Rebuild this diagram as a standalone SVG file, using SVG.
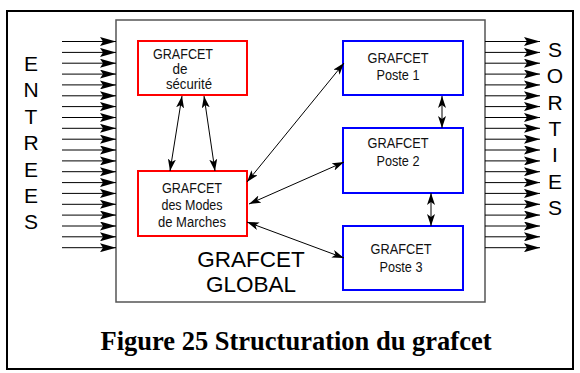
<svg xmlns="http://www.w3.org/2000/svg" width="580" height="373" viewBox="0 0 580 373">
<style>
.frame{fill:#fff;stroke:#000;stroke-width:2}
.global{fill:#fff;stroke:#555;stroke-width:1.5}
.red{fill:#fff;stroke:#ff0000;stroke-width:2}
.blue{fill:#fff;stroke:#0000ff;stroke-width:2}
.io line{stroke:#000;stroke-width:1;fill:none;marker-end:url(#ah)}
.con{stroke:#000;stroke-width:1;fill:none;marker-start:url(#ch);marker-end:url(#ch)}
.big{font-family:"Liberation Sans",Arial,sans-serif;font-size:21px;fill:#000;text-anchor:middle}
.small{font-family:"Liberation Sans",Arial,sans-serif;font-size:14px;fill:#111;text-anchor:middle}
.glob{font-family:"Liberation Sans",Arial,sans-serif;font-size:22.5px;fill:#000;text-anchor:middle}
.cap{font-family:"Liberation Serif","Times New Roman",serif;font-size:26.5px;font-weight:bold;fill:#000;text-anchor:middle}
</style>
<defs>
<marker id="ah" viewBox="0 0 16 9" refX="16" refY="4.5" markerWidth="16" markerHeight="9" markerUnits="userSpaceOnUse" orient="auto">
<path d="M0,0 L16,4.5 L0,9 L3,4.5 z" fill="#000"/>
</marker>
<marker id="ch" viewBox="0 0 12 8" refX="12" refY="4" markerWidth="12" markerHeight="8" markerUnits="userSpaceOnUse" orient="auto-start-reverse">
<path d="M0,0 L12,4 L0,8 L3,4 z" fill="#000"/>
</marker>
</defs>
<rect class="frame" x="7" y="11" width="566" height="358"/>
<g id="global">
<rect class="global" x="116" y="20" width="369" height="282"/>
<text class="glob" x="251" y="267">GRAFCET</text>
<text class="glob" x="251" y="292">GLOBAL</text>
</g>
<g id="entrees">
<text class="big" x="31" y="71">E</text>
<text class="big" x="31" y="97">N</text>
<text class="big" x="31" y="124">T</text>
<text class="big" x="31" y="150">R</text>
<text class="big" x="31" y="177">E</text>
<text class="big" x="31" y="203">E</text>
<text class="big" x="31" y="229">S</text>
</g>
<g id="sorties">
<text class="big" x="555" y="57">S</text>
<text class="big" x="555" y="83">O</text>
<text class="big" x="555" y="110">R</text>
<text class="big" x="555" y="136">T</text>
<text class="big" x="555" y="162">I</text>
<text class="big" x="555" y="189">E</text>
<text class="big" x="555" y="215">S</text>
</g>
<g id="securite">
<rect class="red" x="138" y="41" width="109" height="54"/>
<text class="small" x="183" y="59" textLength="60" lengthAdjust="spacingAndGlyphs">GRAFCET</text>
<text class="small" x="180" y="74" textLength="15" lengthAdjust="spacingAndGlyphs">de</text>
<text class="small" x="189" y="89" textLength="46" lengthAdjust="spacingAndGlyphs">sécurité</text>
</g>
<g id="modes">
<rect class="red" x="138" y="171" width="109" height="65"/>
<text class="small" x="192" y="193" textLength="60" lengthAdjust="spacingAndGlyphs">GRAFCET</text>
<text class="small" x="192" y="210" textLength="61" lengthAdjust="spacingAndGlyphs">des Modes</text>
<text class="small" x="192" y="227" textLength="68" lengthAdjust="spacingAndGlyphs">de Marches</text>
</g>
<g id="poste1">
<rect class="blue" x="343" y="41" width="120" height="54"/>
<text class="small" x="398" y="63" textLength="61" lengthAdjust="spacingAndGlyphs">GRAFCET</text>
<text class="small" x="398" y="80" textLength="43" lengthAdjust="spacingAndGlyphs">Poste 1</text>
</g>
<g id="poste2">
<rect class="blue" x="343" y="128" width="120" height="65"/>
<text class="small" x="398" y="148" textLength="61" lengthAdjust="spacingAndGlyphs">GRAFCET</text>
<text class="small" x="398" y="166" textLength="43" lengthAdjust="spacingAndGlyphs">Poste 2</text>
</g>
<g id="poste3">
<rect class="blue" x="343" y="226" width="120" height="64"/>
<text class="small" x="401" y="254" textLength="61" lengthAdjust="spacingAndGlyphs">GRAFCET</text>
<text class="small" x="401" y="272" textLength="43" lengthAdjust="spacingAndGlyphs">Poste 3</text>
</g>
<g id="connectors">
<g class="io">
<line x1="62" y1="41.5" x2="116" y2="41.5"/><line x1="62" y1="52.4" x2="116" y2="52.4"/><line x1="62" y1="63.2" x2="116" y2="63.2"/><line x1="62" y1="74.1" x2="116" y2="74.1"/><line x1="62" y1="84.9" x2="116" y2="84.9"/><line x1="62" y1="95.8" x2="116" y2="95.8"/><line x1="62" y1="106.6" x2="116" y2="106.6"/><line x1="62" y1="117.5" x2="116" y2="117.5"/><line x1="62" y1="128.3" x2="116" y2="128.3"/><line x1="62" y1="139.2" x2="116" y2="139.2"/><line x1="62" y1="150" x2="116" y2="150"/><line x1="62" y1="160.9" x2="116" y2="160.9"/><line x1="62" y1="171.7" x2="116" y2="171.7"/><line x1="62" y1="182.6" x2="116" y2="182.6"/><line x1="62" y1="193.4" x2="116" y2="193.4"/><line x1="62" y1="204.3" x2="116" y2="204.3"/><line x1="62" y1="215.1" x2="116" y2="215.1"/><line x1="62" y1="226" x2="116" y2="226"/><line x1="62" y1="236.8" x2="116" y2="236.8"/><line x1="62" y1="247.7" x2="116" y2="247.7"/>
</g>
<g class="io">
<line x1="485" y1="41.5" x2="540" y2="41.5"/><line x1="485" y1="52.4" x2="540" y2="52.4"/><line x1="485" y1="63.2" x2="540" y2="63.2"/><line x1="485" y1="74.1" x2="540" y2="74.1"/><line x1="485" y1="84.9" x2="540" y2="84.9"/><line x1="485" y1="95.8" x2="540" y2="95.8"/><line x1="485" y1="106.6" x2="540" y2="106.6"/><line x1="485" y1="117.5" x2="540" y2="117.5"/><line x1="485" y1="128.3" x2="540" y2="128.3"/><line x1="485" y1="139.2" x2="540" y2="139.2"/><line x1="485" y1="150" x2="540" y2="150"/><line x1="485" y1="160.9" x2="540" y2="160.9"/><line x1="485" y1="171.7" x2="540" y2="171.7"/><line x1="485" y1="182.6" x2="540" y2="182.6"/><line x1="485" y1="193.4" x2="540" y2="193.4"/><line x1="485" y1="204.3" x2="540" y2="204.3"/><line x1="485" y1="215.1" x2="540" y2="215.1"/><line x1="485" y1="226" x2="540" y2="226"/><line x1="485" y1="236.8" x2="540" y2="236.8"/><line x1="485" y1="247.7" x2="540" y2="247.7"/>
</g>
<line class="con" x1="182" y1="96" x2="170" y2="171"/>
<line class="con" x1="204" y1="96" x2="215" y2="171"/>
<line class="con" x1="247" y1="182" x2="344" y2="63"/>
<line class="con" x1="249" y1="204" x2="344" y2="162"/>
<line class="con" x1="247" y1="222" x2="344" y2="258"/>
<line class="con" x1="442" y1="96" x2="442" y2="128"/>
<line class="con" x1="431" y1="193" x2="431" y2="226"/>
</g>
<text class="cap" x="296" y="350">Figure 25 Structuration du grafcet</text>
</svg>
